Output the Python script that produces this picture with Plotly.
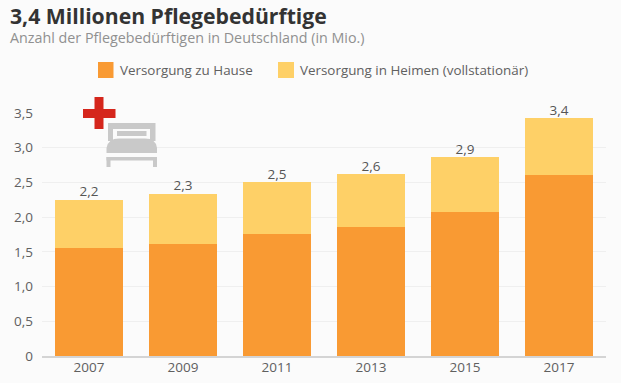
import plotly.graph_objects as go

years = ["2007", "2009", "2011", "2013", "2015", "2017"]
zu_hause = [1.55, 1.62, 1.76, 1.86, 2.08, 2.60]
heime = [0.70, 0.72, 0.74, 0.76, 0.78, 0.83]
total_labels = ["2,2", "2,3", "2,5", "2,6", "2,9", "3,4"]
tick_vals = [0, 0.5, 1, 1.5, 2, 2.5, 3, 3.5]
tick_text = ["0", "0,5", "1,0", "1,5", "2,0", "2,5", "3,0", "3,5"]

W, H = 621, 383
L, R, T, B = 42, 15, 113, 27
FONT = "Open Sans"
ORANGE = "#f99a33"
YELLOW = "#fed067"
BG = "#fbfbfb"


def px(x):
    return (x - L) / (W - L - R)


def py(y):
    return 1 - (y - T) / (H - T - B)


fig = go.Figure()
fig.add_bar(x=years, y=zu_hause, name="Versorgung zu Hause", marker_color=ORANGE, marker_line_width=0, width=0.72)
fig.add_bar(x=years, y=heime, name="Versorgung in Heimen (vollstationär)", marker_color=YELLOW, marker_line_width=0, width=0.72)
fig.add_scatter(
    x=years,
    y=[a + b for a, b in zip(zu_hause, heime)],
    mode="text",
    text=total_labels,
    textposition="top center",
    textfont=dict(family=FONT, size=13.5, color="#555555"),
    cliponaxis=False,
    hoverinfo="skip",
)


def rect(x0, y0, x1, y1, color):
    return dict(type="rect", xref="paper", yref="paper", x0=px(x0), x1=px(x1),
                y0=py(y1), y1=py(y0), fillcolor=color, line_width=0, layer="above")


GREY = "#c9c9c9"
shapes = [
    # legend swatches
    rect(98, 62, 113.5, 78, ORANGE),
    rect(278, 62, 294, 78, YELLOW),
    # red cross
    rect(94.5, 97, 103.5, 129, "#d5261c"),
    rect(83, 109, 115.5, 118, "#d5261c"),
    # bed icon
    rect(108, 123, 155.5, 141, GREY),
    rect(113, 129, 150, 141, BG),
    rect(117, 131, 146.5, 136, GREY),
    rect(106.5, 157, 157, 160.5, GREY),
    rect(106.5, 157, 110.5, 167, GREY),
    rect(153, 157, 157, 167, GREY),
    dict(type="path", xref="paper", yref="paper", layer="above", line_width=0, fillcolor=GREY,
         path=(f"M {px(106.5)} {py(153)} L {px(106.5)} {py(148)} Q {px(108)} {py(138.5)} {px(119)} {py(138.5)} "
               f"L {px(145)} {py(138.5)} Q {px(156)} {py(138.5)} {px(157)} {py(148)} L {px(157)} {py(153)} Z")),
]

ann = [
    dict(text="<b>3,4 Millionen Pflegebedürftige</b>", x=px(7.5), y=py(16), size=21.2, color="#333333"),
    dict(text="Anzahl der Pflegebedürftigen in Deutschland (in Mio.)", x=px(8), y=py(38), size=14.3, color="#909090"),
    dict(text="Versorgung zu Hause", x=px(118), y=py(70), size=13.4, color="#606060"),
    dict(text="Versorgung in Heimen (vollstationär)", x=px(298), y=py(70), size=13.4, color="#606060"),
]
annotations = [
    dict(text=a["text"], x=a["x"], y=a["y"], xref="paper", yref="paper", xanchor="left", yanchor="middle",
         showarrow=False, font=dict(family=FONT, size=a["size"], color=a["color"]))
    for a in ann
]

fig.update_layout(
    width=W, height=H, autosize=False,
    barmode="stack",
    showlegend=False,
    paper_bgcolor=BG,
    plot_bgcolor=BG,
    margin=dict(l=L, r=R, t=T, b=B, autoexpand=False),
    shapes=shapes,
    annotations=annotations,
    xaxis=dict(type="category", range=[-0.5, 5.5], showgrid=False, ticks="", showline=True, automargin=False,
               linecolor="#d4d4d4", linewidth=1.5, ticklabelstandoff=-2,
               tickfont=dict(family=FONT, size=13.5, color="#606060")),
    yaxis=dict(range=[0, 3.5], tickvals=tick_vals, ticktext=tick_text, showgrid=True, gridcolor="#efefef",
               gridwidth=1, zeroline=False, ticks="", ticklabelstandoff=8, automargin=False,
               tickfont=dict(family=FONT, size=13.5, color="#606060")),
)

fig.write_html("out.html", config={"displayModeBar": False},
               post_script="document.body.style.margin='0';document.body.style.background='#fbfbfb';document.documentElement.style.overflow='hidden';")
